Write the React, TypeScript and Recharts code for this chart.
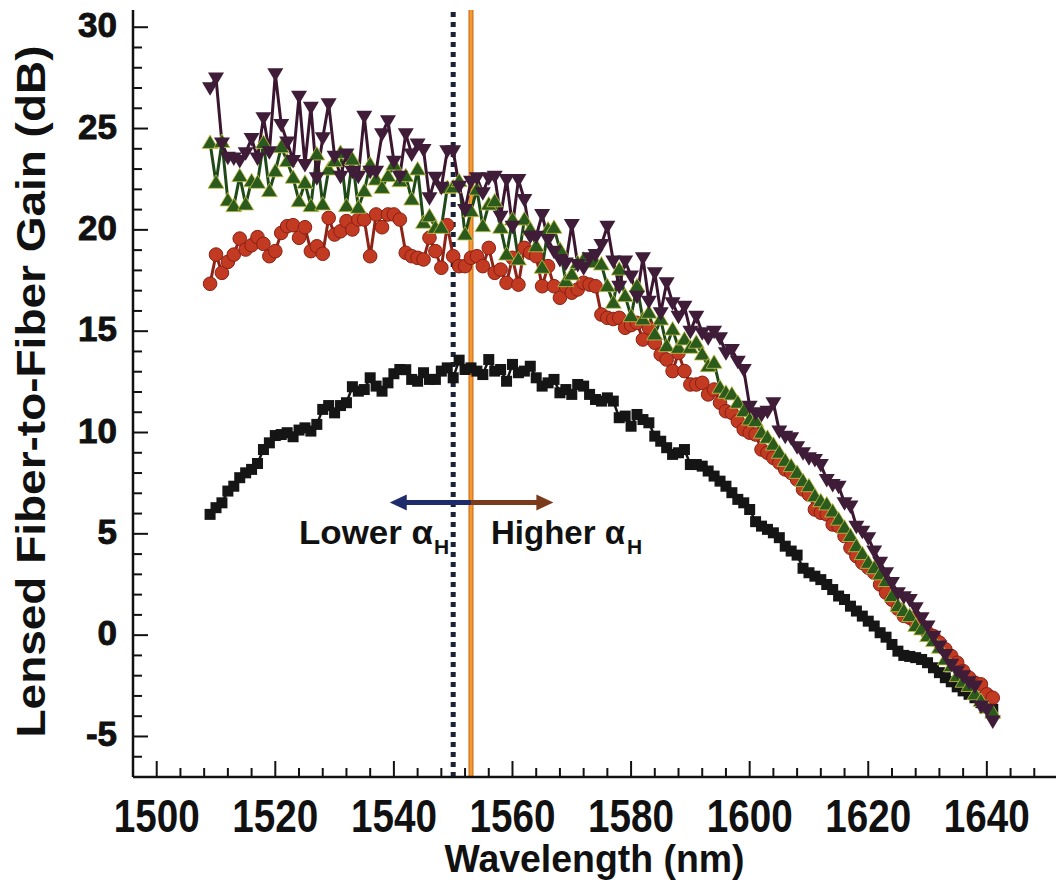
import { LineChart, Line, XAxis, YAxis, ReferenceLine, Label } from 'recharts';

// wavelength grid of the measurement (nm)
const WAVELENGTHS = Array.from({ length: 133 }, (_, i) => 1509 + i);

const BLACK = [
  5.96, 6.29, 6.53, 7.11, 7.35, 7.77, 8.01, 8.18, 8.47, 9.16,
  9.49, 9.85, 9.9, 9.99, 9.79, 10.12, 10.23, 10.07, 10.4, 11.14,
  11.33, 10.97, 11.33, 11.47, 12.26, 12.04, 12.12, 12.7, 12.29, 12.04,
  12.45, 12.9, 13.11, 13.1, 12.62, 12.53, 12.95, 12.62, 12.62, 13.03,
  13.19, 12.7, 13.57, 13.11, 13.19, 13.03, 12.86, 13.6, 13.03, 13.11,
  12.53, 13.36, 12.95, 13.03, 13.27, 12.7, 12.29, 12.45, 12.62, 11.96,
  12.12, 11.88, 12.37, 12.29, 11.88, 11.63, 11.55, 11.71, 11.55, 10.73,
  10.81, 10.31, 10.89, 10.64, 10.48, 9.82, 9.57, 9.25, 8.92, 9.0,
  9.16, 8.42, 8.42, 8.34, 8.1, 7.85, 7.6, 7.35, 7.03, 6.7,
  6.53, 6.2, 5.6, 5.38, 5.22, 5.05, 4.81, 4.39, 4.15, 3.95,
  3.3, 3.08, 2.91, 2.74, 2.5, 2.25, 1.93, 1.76, 1.43, 1.19,
  0.94, 0.69, 0.45, 0.12, -0.1, -0.46, -0.79, -1.0, -1.05, -1.11,
  -1.2, -1.36, -1.61, -1.85, -2.1, -2.3, -2.55, -2.75, -2.92, -3.09,
  -3.33, -3.5, -3.66,
];

const RED = [
  17.34, 18.78, 17.88, 18.42, 18.78, 19.57, 19.03, 19.24, 19.64, 19.31,
  18.7, 18.95, 19.85, 20.18, 20.23, 19.61, 20.13, 18.95, 19.19, 18.82,
  20.59, 19.77, 19.93, 20.43, 20.02, 20.51, 20.51, 18.7, 20.76, 20.13,
  20.76, 20.76, 20.51, 18.87, 18.7, 18.62, 18.54, 19.61, 18.95, 18.13,
  20.23, 18.7, 18.21, 18.21, 18.62, 18.7, 18.21, 19.11, 17.88, 18.04,
  17.39, 18.62, 17.3, 19.11, 18.87, 18.7, 17.22, 18.21, 17.22, 16.65,
  17.22, 16.9, 17.06, 17.39, 17.3, 17.22, 15.82, 15.66, 15.6, 15.66,
  15.17, 15.3, 15.41, 14.59, 15.17, 14.43, 13.85, 13.6, 13.03, 13.93,
  13.03, 12.37, 12.37, 12.45, 11.88, 12.12, 11.47, 11.05, 10.97, 10.56,
  10.15, 9.99, 9.9, 9.16, 9.0, 8.75, 8.51, 8.18, 8.01, 7.68,
  7.19, 6.94, 6.2, 6.04, 5.96, 5.46, 5.38, 4.89, 4.31, 3.9,
  3.57, 3.33, 3.08, 2.5, 2.1, 1.75, 1.3, 0.95, 0.86, 0.61,
  0.45, 0.12, -0.05, -0.37, -0.7, -1.03, -1.36, -1.77, -2.1, -2.35,
  -2.43, -2.92, -3.09,
];

const GREEN = [
  24.29, 22.32, 24.34, 21.45, 21.17, 22.65, 21.25, 22.4, 22.32, 24.29,
  21.91, 22.89, 24.08, 23.39, 22.57, 21.41, 22.32, 21.17, 23.72, 21.25,
  22.98, 23.39, 23.8, 21.17, 23.47, 21.09, 21.91, 23.22, 22.48, 22.07,
  22.65, 23.22, 22.4, 22.65, 21.5, 22.98, 20.35, 20.67, 20.1, 20.1,
  22.07, 22.1, 22.4, 19.77, 20.92, 21.99, 20.18, 21.25, 21.41, 20.1,
  18.78, 20.51, 18.54, 20.51, 20.02, 19.19, 18.13, 20.02, 20.1, 19.03,
  17.47, 17.8, 18.37, 18.54, 18.54, 18.4, 18.29, 17.22, 16.4, 18.04,
  16.73, 15.74, 17.22, 15.58, 15.91, 14.84, 15.58, 14.26, 15.08, 14.18,
  14.59, 14.18, 14.43, 13.85, 13.27, 13.44, 12.21, 11.96, 11.88, 11.47,
  11.05, 10.64, 10.56, 9.99, 9.74, 9.4, 9.0, 8.6, 8.34, 8.01,
  7.6, 7.35, 6.86, 6.61, 6.45, 6.1, 5.7, 5.3, 4.89, 4.39,
  4.0, 3.57, 3.3, 3.0, 2.67, 1.93, 1.43, 1.19, 0.94, 0.45,
  0.28, -0.05, -0.29, -0.62, -1.2, -1.53, -2.02, -2.3, -2.51, -2.92,
  -3.25, -3.58, -3.83,
];

const PURPLE = [
  27.01, 27.5, 24.29, 23.58, 23.55, 23.42, 23.8, 24.51, 23.55, 25.53,
  23.85, 27.7, 25.2, 24.34, 23.42, 26.59, 23.22, 26.05, 22.57, 24.54,
  26.22, 23.63, 22.65, 23.75, 22.89, 22.65, 25.61, 22.89, 22.89, 24.74,
  25.39, 23.39, 22.65, 24.74, 23.75, 24.24, 23.96, 21.58, 22.6, 22.1,
  23.91, 23.91, 22.15, 21.0, 22.4, 22.57, 21.83, 22.57, 22.65, 20.67,
  22.48, 20.18, 22.48, 21.5, 19.69, 19.69, 20.76, 19.52, 18.95, 18.54,
  18.37, 20.26, 18.29, 18.13, 18.62, 18.78, 19.28, 20.18, 18.46, 17.22,
  18.46, 17.72, 16.73, 18.62, 16.48, 17.88, 15.91, 17.39, 16.4, 15.74,
  16.23, 15.0, 15.74, 14.92, 14.67, 15.0, 14.67, 13.93, 14.1, 13.52,
  13.11, 11.3, 10.97, 10.89, 11.05, 11.47, 10.07, 9.82, 9.74, 9.3,
  9.0, 8.75, 8.67, 8.42, 7.68, 7.44, 7.35, 6.53, 6.37, 5.38,
  5.13, 4.81, 4.15, 3.6, 3.08, 2.6, 2.09, 1.9, 1.76, 1.35,
  0.86, 0.45, -0.05, -0.54, -0.95, -1.44, -1.77, -2.0, -2.3, -2.51,
  -3.5, -3.66, -4.24,
];

const X_TICKS = Array.from({ length: 40 }, (_, i) => 1496 + i * 4);
const Y_TICKS = Array.from({ length: 38 }, (_, i) => -7 + i);

const LOWER_EDGE = 1550; // dotted line
const GAIN_PEAK = 1553; // orange line
const ARROW_Y = 6.55;
const ARROW_LEFT = 1539.3;
const ARROW_RIGHT = 1566.9;

const FONT = "'Liberation Sans', Arial, Helvetica, sans-serif";
const INK = '#111';
const NAVY = '#1f2c6b';
const BROWN = '#7a3a1c';

const data = WAVELENGTHS.map((wl, i) => ({
  wl,
  black: BLACK[i],
  red: RED[i],
  green: GREEN[i],
  purple: PURPLE[i],
}));

const BottomTick = ({ x, y, payload }: any) => {
  const v = payload.value;
  const major = (v - 1500) % 20 === 0;
  return (
    <g>
      <line x1={x} y1={y} x2={x} y2={y - (major ? 16 : 9)} stroke={INK} strokeWidth={2} />
      {major && (
        <text
          x={x}
          y={y + 55}
          textAnchor="middle"
          fontFamily={FONT}
          fontWeight="bold"
          fontSize={47}
          textLength={86}
          lengthAdjust="spacingAndGlyphs"
          fill={INK}
        >
          {v}
        </text>
      )}
    </g>
  );
};

const TopTick = ({ x, y, payload }: any) => {
  const major = (payload.value - 1500) % 20 === 0;
  return <line x1={x} y1={y} x2={x} y2={y + (major ? 15 : 8)} stroke={INK} strokeWidth={2} />;
};

const LeftTick = ({ x, y, payload }: any) => {
  const v = payload.value;
  const major = v % 5 === 0;
  return (
    <g>
      <line x1={x} y1={y} x2={x + (major ? 15 : 9)} y2={y} stroke={INK} strokeWidth={2} />
      {major && (
        <text
          x={x - 16}
          y={y + 10}
          textAnchor="end"
          fontFamily={FONT}
          fontWeight="bold"
          fontSize={35}
          fill={INK}
          stroke={INK}
          strokeWidth={0.9}
        >
          {v}
        </text>
      )}
    </g>
  );
};

const RightTick = ({ x, y, payload }: any) => {
  const major = payload.value % 5 === 0;
  return <line x1={x} y1={y} x2={x - (major ? 15 : 9)} y2={y} stroke={INK} strokeWidth={2} />;
};

const squareDot = ({ cx, cy, index }: any) => (
  <rect key={`s${index}`} x={cx - 5.5} y={cy - 5.5} width={11} height={11} fill="#151515" />
);

const circleDot = ({ cx, cy, index }: any) => (
  <circle key={`c${index}`} cx={cx} cy={cy} r={6.8} fill="#c23a22" stroke="#8a2012" strokeWidth={1} />
);

const upDot = ({ cx, cy, index }: any) => (
  <polygon
    key={`u${index}`}
    points={`${cx},${cy - 8} ${cx - 8},${cy + 5.5} ${cx + 8},${cy + 5.5}`}
    fill="#2b5a1d"
    stroke="#c9c34a"
    strokeWidth={0.8}
  />
);

const downDot = ({ cx, cy, index }: any) => (
  <polygon
    key={`d${index}`}
    points={`${cx - 8},${cy - 5.5} ${cx + 8},${cy - 5.5} ${cx},${cy + 8}`}
    fill="#3f1c37"
  />
);

const LeftArrow = ({ x1, y1, x2 }: any) => {
  const l = Math.min(x1, x2);
  const r = Math.max(x1, x2);
  return (
    <g>
      <line x1={l + 14} y1={y1} x2={r} y2={y1} stroke={NAVY} strokeWidth={5} />
      <polygon points={`${l},${y1} ${l + 17},${y1 - 8} ${l + 17},${y1 + 8}`} fill={NAVY} />
      <text
        x={r - 38}
        y={y1 + 42}
        textAnchor="end"
        fontFamily={FONT}
        fontWeight="bold"
        fontSize={33}
        textLength={134}
        lengthAdjust="spacingAndGlyphs"
        fill={INK}
      >
        Lower α
      </text>
      <text x={r - 37} y={y1 + 52} fontFamily={FONT} fontWeight="bold" fontSize={21} fill={INK}>
        H
      </text>
    </g>
  );
};

const RightArrow = ({ x1, y1, x2 }: any) => {
  const l = Math.min(x1, x2);
  const r = Math.max(x1, x2);
  return (
    <g>
      <line x1={l} y1={y1} x2={r - 14} y2={y1} stroke={BROWN} strokeWidth={5} />
      <polygon points={`${r},${y1} ${r - 17},${y1 - 8} ${r - 17},${y1 + 8}`} fill={BROWN} />
      <text x={l + 20} y={y1 + 42} fontFamily={FONT} fontWeight="bold" fontSize={33} fill={INK}>
        Higher α
        <tspan dx={2} dy={10} fontSize={21}>H</tspan>
      </text>
    </g>
  );
};

const XTitle = ({ viewBox }: any) => {
  const vb = viewBox || { x: 133, y: 777, width: 925, height: 105 };
  return (
    <text
      x={vb.x + vb.width / 2 - 1}
      y={vb.y + 95}
      textAnchor="middle"
      fontFamily={FONT}
      fontWeight="bold"
      fontSize={39}
      textLength={300}
      lengthAdjust="spacingAndGlyphs"
      fill={INK}
    >
      Wavelength (nm)
    </text>
  );
};

const YTitle = ({ viewBox }: any) => {
  const vb = viewBox || { x: 0, y: 10, width: 133, height: 767 };
  const cx = 45;
  const cy = vb.y + vb.height / 2 - 2;
  return (
    <text
      x={cx}
      y={cy}
      transform={`rotate(-90, ${cx}, ${cy})`}
      textAnchor="middle"
      fontFamily={FONT}
      fontWeight="bold"
      fontSize={40}
      textLength={692}
      lengthAdjust="spacingAndGlyphs"
      fill={INK}
    >
      Lensed Fiber-to-Fiber Gain (dB)
    </text>
  );
};

export default function App() {
  return (
    <div
      style={{
        position: 'absolute',
        left: 0,
        top: 0,
        width: 1056,
        height: 882,
        overflow: 'hidden',
        background: '#fff',
      }}
    >
      <LineChart width={1075} height={882} data={data} margin={{ top: 10, right: 17, bottom: 0, left: 0 }}>
        <XAxis
          dataKey="wl"
          type="number"
          domain={[1496, 1652]}
          ticks={X_TICKS}
          interval={0}
          allowDataOverflow
          height={105}
          tickSize={0}
          tickMargin={0}
          tickLine={false}
          tick={<BottomTick />}
          axisLine={{ stroke: INK, strokeWidth: 2.5 }}
        >
          <Label content={<XTitle />} />
        </XAxis>
        <XAxis
          xAxisId="top"
          orientation="top"
          type="number"
          domain={[1496, 1652]}
          ticks={X_TICKS}
          interval={0}
          allowDataOverflow
          height={0}
          tickSize={0}
          tickMargin={0}
          tickLine={false}
          tick={<TopTick />}
          axisLine={{ stroke: INK, strokeWidth: 2.5 }}
        />
        <YAxis
          type="number"
          domain={[-7, 30.85]}
          ticks={Y_TICKS}
          interval={0}
          allowDataOverflow
          width={133}
          tickSize={0}
          tickMargin={0}
          tickLine={false}
          tick={<LeftTick />}
          axisLine={{ stroke: INK, strokeWidth: 2.5 }}
        >
          <Label content={<YTitle />} />
        </YAxis>
        <YAxis
          yAxisId="right"
          orientation="right"
          type="number"
          domain={[-7, 30.85]}
          ticks={Y_TICKS}
          interval={0}
          allowDataOverflow
          width={0}
          tickSize={0}
          tickMargin={0}
          tickLine={false}
          tick={<RightTick />}
          axisLine={{ stroke: INK, strokeWidth: 2.5 }}
        />

        <ReferenceLine x={LOWER_EDGE} stroke="#1a2238" strokeWidth={5} strokeDasharray="5 5" />
        <ReferenceLine x={GAIN_PEAK} stroke="#c8661a" strokeWidth={5} />
        <ReferenceLine x={GAIN_PEAK} stroke="#f59a2c" strokeWidth={3} />
        <ReferenceLine
          segment={[{ x: ARROW_LEFT, y: ARROW_Y }, { x: GAIN_PEAK, y: ARROW_Y }]}
          shape={LeftArrow}
        />
        <ReferenceLine
          segment={[{ x: GAIN_PEAK, y: ARROW_Y }, { x: ARROW_RIGHT, y: ARROW_Y }]}
          shape={RightArrow}
        />

        <Line
          type="linear"
          dataKey="black"
          stroke="#151515"
          strokeWidth={2.5}
          dot={squareDot}
          activeDot={false}
          isAnimationActive={false}
        />
        <Line
          type="linear"
          dataKey="red"
          stroke="#8e2417"
          strokeWidth={3}
          dot={circleDot}
          activeDot={false}
          isAnimationActive={false}
        />
        <Line
          type="linear"
          dataKey="green"
          stroke="#1f4a18"
          strokeWidth={3}
          dot={upDot}
          activeDot={false}
          isAnimationActive={false}
        />
        <Line
          type="linear"
          dataKey="purple"
          stroke="#3a1630"
          strokeWidth={3}
          dot={downDot}
          activeDot={false}
          isAnimationActive={false}
        />
      </LineChart>
    </div>
  );
}
